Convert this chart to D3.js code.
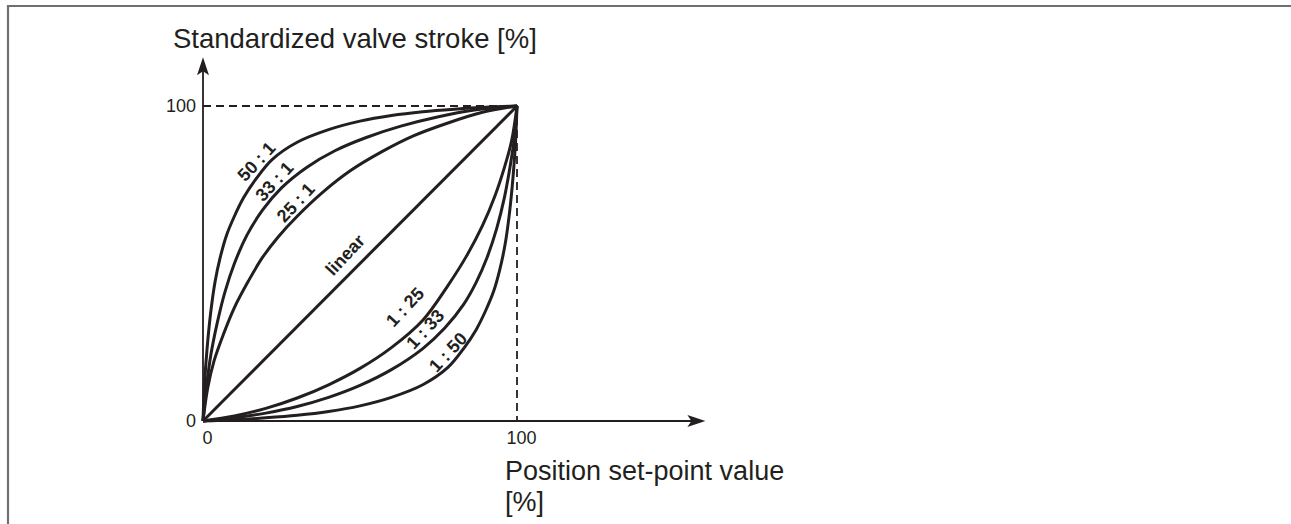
<!DOCTYPE html>
<html>
<head>
<meta charset="utf-8">
<script src="https://cdn.jsdelivr.net/npm/d3@7"></script>
<style>
  body { margin: 0; background: #fff; }
  svg { display: block; font-family: "Liberation Sans", Arial, sans-serif; }
</style>
</head>
<body>
<script>
// values, [set-point %, stroke %]
const linear = [[0, 0], [100, 100]];
const r50to1 = [[0, 0], [0.5, 12], [1.3, 23], [2.4, 34], [3.8, 44], [5.5, 52], [7.5, 59], [10, 65], [13, 71], [17, 77], [22, 83], [30, 88.5], [40, 92.5], [50, 95.2], [60, 97], [70, 98.2], [80, 99], [90, 99.6], [100, 100]];
const r33to1 = [[0, 0], [1, 10], [2.5, 21], [4.5, 31], [7, 41], [10, 50], [14, 59], [19, 67], [25, 74], [33, 80.5], [42, 85.8], [52, 90], [63, 93.6], [75, 96.6], [87, 98.8], [100, 100]];
const r25to1 = [[0, 0], [1.5, 10.5], [3.5, 19], [6.5, 27.5], [10, 36], [14.5, 44.5], [19, 52], [24, 58.5], [30, 65], [38, 72.5], [47, 79.5], [57, 85.5], [67, 90.5], [78, 94.6], [89, 98], [100, 100]];
const r1to25 = [[0, 0], [10, 1.6], [20, 4], [30, 7.3], [40, 11.5], [50, 16.7], [60, 23.3], [70, 32], [78, 43], [84, 52.5], [89, 62], [93, 71.5], [96, 80.5], [98.3, 89], [100, 100]];
const r1to33 = [[0, 0], [10, 1], [20, 2.5], [30, 4.6], [40, 7.5], [50, 11.3], [60, 16.3], [70, 23], [77, 29.5], [83, 37], [87, 44], [90.5, 52], [93.5, 61], [96, 71], [98, 82], [99.3, 91], [100, 100]];
const r1to50 = [[0, 0], [10, 0.4], [20, 1], [30, 1.8], [40, 3], [50, 4.8], [60, 7.5], [70, 11.5], [78, 17], [83, 23], [87, 29], [90, 35], [92.5, 41], [94.5, 48], [96.2, 56], [97.6, 66], [98.7, 77], [99.5, 88], [100, 100]];

const curveLabels = ["50 : 1", "33 : 1", "25 : 1", "linear", "1 : 25", "1 : 33", "1 : 50"];
const labelX = [17.0, 22.7, 29.5, 45.2, 64.3, 70.7, 78.0];
const labelY = [82.4, 76.1, 69.4, 52.7, 36.2, 29.2, 21.9];

const tickValues = [0, 100];
const yTitle = "Standardized valve stroke [%]";
const xTitle = ["Position set-point value", "[%]"];

const width = 1291;
const height = 524;

const svg = d3.select("body").append("svg")
  .attr("width", width)
  .attr("height", height);

// frame round the figure (runs off the right and bottom edge)
svg.append("path")
  .attr("d", `M8,${height + 5} V6 H${width + 5}`)
  .attr("fill", "none")
  .attr("stroke", "#707070")
  .attr("stroke-width", 2.2);

const x = d3.scaleLinear().domain([0, 100]).range([203, 517]);
const y = d3.scaleLinear().domain([0, 100]).range([421, 106]);

const ink = "#231f20";

// dashed guides at 100 %
svg.append("path")
  .attr("d", `M${x(0)},${y(100)} H${x(100)} V${y(0)}`)
  .attr("fill", "none")
  .attr("stroke", ink)
  .attr("stroke-width", 1.8)
  .attr("stroke-dasharray", "8,5");

// axes with arrow heads
const xEnd = x(160), yEnd = y(115.5);
svg.append("line")
  .attr("x1", x(0)).attr("y1", y(0)).attr("x2", xEnd - 10).attr("y2", y(0))
  .attr("stroke", ink).attr("stroke-width", 1.8);
svg.append("line")
  .attr("x1", x(0)).attr("y1", y(0)).attr("x2", x(0)).attr("y2", yEnd + 10)
  .attr("stroke", ink).attr("stroke-width", 1.8);
svg.append("path")
  .attr("d", `M${xEnd},${y(0)} L${xEnd - 18},${y(0) - 6} L${xEnd - 14},${y(0)} L${xEnd - 18},${y(0) + 6} Z`)
  .attr("fill", ink);
svg.append("path")
  .attr("d", `M${x(0)},${yEnd} L${x(0) - 6},${yEnd + 18} L${x(0)},${yEnd + 14} L${x(0) + 6},${yEnd + 18} Z`)
  .attr("fill", ink);

// tick labels through d3 axes
const yAxis = svg.append("g")
  .attr("transform", `translate(${x(0)},0)`)
  .call(d3.axisLeft(y).tickValues(tickValues).tickSize(0).tickPadding(7));
const xAxis = svg.append("g")
  .attr("transform", `translate(0,${y(0)})`)
  .call(d3.axisBottom(x).tickValues(tickValues).tickSize(0).tickPadding(10));
[yAxis, xAxis].forEach((g) => {
  g.select(".domain").remove();
  g.selectAll("text")
    .attr("font-family", "'Liberation Sans', Arial, sans-serif")
    .attr("font-size", 18)
    .attr("fill", ink);
});
xAxis.selectAll("text").attr("dx", 4);

// characteristic curves
const line = d3.line()
  .x((d) => x(d[0]))
  .y((d) => y(d[1]))
  .curve(d3.curveCatmullRom.alpha(0.5));

const series = [r50to1, r33to1, r25to1, linear, r1to25, r1to33, r1to50];
svg.append("g")
  .selectAll("path")
  .data(series)
  .join("path")
  .attr("d", line)
  .attr("fill", "none")
  .attr("stroke", ink)
  .attr("stroke-width", 3)
  .attr("stroke-linejoin", "round");

svg.append("g")
  .selectAll("text")
  .data(curveLabels)
  .join("text")
  .attr("transform", (d, i) => `translate(${x(labelX[i])},${y(labelY[i])}) rotate(-47)`)
  .attr("text-anchor", "middle")
  .attr("dy", "0.35em")
  .attr("font-size", 18)
  .attr("font-weight", "bold")
  .attr("fill", ink)
  .text((d) => d);

// axis titles
svg.append("text")
  .attr("x", 173).attr("y", 48)
  .attr("font-size", 27.5)
  .attr("fill", ink)
  .text(yTitle);

svg.append("g")
  .selectAll("text")
  .data(xTitle)
  .join("text")
  .attr("x", 505)
  .attr("y", (d, i) => 480 + i * 31)
  .attr("font-size", 27)
  .attr("fill", ink)
  .text((d) => d);
</script>
</body>
</html>
